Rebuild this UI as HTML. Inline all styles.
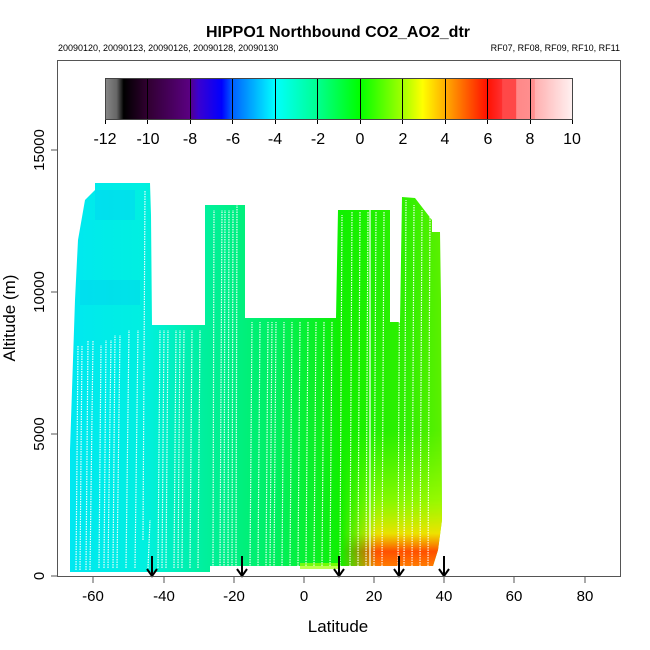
<!DOCTYPE html>
<html><head><meta charset="utf-8"><style>
body{margin:0;background:#fff}
svg{display:block;font-family:"Liberation Sans",sans-serif}
</style></head><body>
<svg width="650" height="650" xmlns="http://www.w3.org/2000/svg">
<defs>
<linearGradient id="cb" x1="105" x2="572" y1="0" y2="0" gradientUnits="userSpaceOnUse">
<stop offset="0" stop-color="#888"/>
<stop offset="0.025" stop-color="#666"/>
<stop offset="0.04" stop-color="#000"/>
<stop offset="0.09" stop-color="#300030"/>
<stop offset="0.18" stop-color="#5a0080"/>
<stop offset="0.2" stop-color="#3a00d0"/>
<stop offset="0.25" stop-color="#0000ff"/>
<stop offset="0.273" stop-color="#0060ff"/>
<stop offset="0.364" stop-color="#00ffff"/>
<stop offset="0.455" stop-color="#00ff90"/>
<stop offset="0.545" stop-color="#00ff00"/>
<stop offset="0.636" stop-color="#a0ff00"/>
<stop offset="0.68" stop-color="#ffff00"/>
<stop offset="0.727" stop-color="#ffb000"/>
<stop offset="0.818" stop-color="#ff1000"/>
<stop offset="0.85" stop-color="#ff3030"/>
<stop offset="0.851" stop-color="#ff4848"/>
<stop offset="0.88" stop-color="#ff4848"/>
<stop offset="0.881" stop-color="#ff8888"/>
<stop offset="0.92" stop-color="#ff9090"/>
<stop offset="0.921" stop-color="#ffb0b0"/>
<stop offset="0.95" stop-color="#ffc8c8"/>
<stop offset="1" stop-color="#fff0f0"/>
</linearGradient>
<linearGradient id="dg" x1="70" x2="445" y1="0" y2="0" gradientUnits="userSpaceOnUse">
<stop offset="0" stop-color="#00e8f0"/>
<stop offset="0.2" stop-color="#00f0e0"/>
<stop offset="0.35" stop-color="#00f0a0"/>
<stop offset="0.55" stop-color="#00f060"/>
<stop offset="0.72" stop-color="#10f000"/>
<stop offset="0.9" stop-color="#30f000"/>
<stop offset="1" stop-color="#60f000"/>
</linearGradient>
<linearGradient id="hot" x1="0" x2="0" y1="430" y2="568" gradientUnits="userSpaceOnUse">
<stop offset="0" stop-color="#a0ff00" stop-opacity="0"/>
<stop offset="0.5" stop-color="#c0ff00" stop-opacity="0.6"/>
<stop offset="0.75" stop-color="#ffe000" stop-opacity="0.9"/>
<stop offset="0.88" stop-color="#ff5000"/>
<stop offset="1" stop-color="#ff8000"/>
</linearGradient>
<linearGradient id="hotx" x1="340" x2="445" y1="0" y2="0" gradientUnits="userSpaceOnUse">
<stop offset="0" stop-color="#fff" stop-opacity="0"/>
<stop offset="0.35" stop-color="#fff" stop-opacity="1"/>
<stop offset="1" stop-color="#fff" stop-opacity="1"/>
</linearGradient>
<mask id="hm"><rect x="330" y="400" width="120" height="180" fill="url(#hotx)"/></mask>
</defs>
<text x="338" y="37" font-size="16" font-weight="bold" text-anchor="middle">HIPPO1 Northbound CO2_AO2_dtr</text>
<text x="58" y="51" font-size="9">20090120, 20090123, 20090126, 20090128, 20090130</text>
<text x="620" y="51" font-size="9" text-anchor="end">RF07, RF08, RF09, RF10, RF11</text>

<path d="M75,300 L78,240 L85,200 L95,190 L95,183 L150,183 L151,215 L152,325 L205,325 L205,205 L245,205 L245,318 L336,318 L338,210 L390,210 L390,322 L400,322 L402,197 L415,198 L432,220 L432,232 L440,232 L441,300 L442,520 L438,550 L433,566 L210,566 L210,572 L70,572 L70,450 Z" fill="url(#dg)"/>
<rect x="95" y="190" width="40" height="30" fill="#00d8f0" opacity="0.6"/>
<rect x="80" y="280" width="60" height="25" fill="#00d0f0" opacity="0.4"/>
<path d="M340,430 L441,430 L442,520 L438,550 L433,566 L340,566 Z" fill="url(#hot)" mask="url(#hm)"/>
<rect x="300" y="563" width="40" height="6" fill="#a0ff00" opacity="0.7"/>
<g stroke="#fff" stroke-width="1.2" stroke-dasharray="1.5 1" opacity="0.9">
<path d="M76,570 L78,345 M80,570 L82,345 M86,570 L88,340 M90,570 L93,340 M99,568 L101,345 M104,568 L106,340 M108,568 L111,340 M113,568 L115,335 M117,568 L120,335 M126,568 L129,330 M135,568 L138,330 M143,540 L145,190 M148,568 L150,520 M158,568 L160,330 M162,568 L164,330 M166,568 L168,330 M174,568 L176,330 M178,568 L180,330 M182,568 L184,330 M190,568 L192,330 M198,568 L200,330 M213,568 L214,210 M220,568 L222,210 M224,568 L225,210 M228,568 L229,210 M232,568 L233,210 M236,568 L237,205 M250,568 L252,322 M258,568 L260,322 M266,568 L268,322 M270,568 L272,322 M274,568 L276,322 M282,568 L284,322 M290,568 L292,322 M298,566 L300,322 M306,566 L308,322 M314,566 L316,322 M322,566 L324,322 M330,566 L332,322 M340,566 L342,215 M350,566 L352,212 M358,566 L360,212 M366,566 L368,212 M374,566 L376,212 M382,566 L384,212 M398,566 L400,200 M404,566 L406,200 M412,566 L414,205 M420,566 L422,210 M428,566 L430,215"/>
</g>
<line x1="370" y1="210" x2="370" y2="566" stroke="#fff" stroke-width="1.2"/>

<g stroke="#000" stroke-width="2" fill="none">
<path d="M152,556 V576 M147,569 L152,576 L157,569"/>
<path d="M242,556 V576 M237,569 L242,576 L247,569"/>
<path d="M339,556 V576 M334,569 L339,576 L344,569"/>
<path d="M399,556 V576 M394,569 L399,576 L404,569"/>
<path d="M444,556 V576 M439,569 L444,576 L449,569"/>
</g>

<rect x="57.5" y="60.5" width="563" height="516" fill="none" stroke="#555" stroke-width="1"/>
<g stroke="#555">
<path d="M93,577 V583 M164,577 V583 M234,577 V583 M304,577 V583 M374,577 V583 M444,577 V583 M514,577 V583 M585,577 V583"/>
<path d="M57,576 H51 M57,434 H51 M57,292 H51 M57,150 H51"/>
</g>
<g font-size="15" text-anchor="middle">
<text x="93" y="601">-60</text><text x="164" y="601">-40</text><text x="234" y="601">-20</text><text x="304" y="601">0</text><text x="374" y="601">20</text><text x="444" y="601">40</text><text x="514" y="601">60</text><text x="585" y="601">80</text>
</g>
<g font-size="15" text-anchor="middle">
<text transform="translate(44,576) rotate(-90)">0</text>
<text transform="translate(44,434) rotate(-90)">5000</text>
<text transform="translate(44,292) rotate(-90)">10000</text>
<text transform="translate(44,150) rotate(-90)">15000</text>
</g>
<text x="338" y="632" font-size="17" text-anchor="middle">Latitude</text>
<text transform="translate(15,318) rotate(-90)" font-size="17" text-anchor="middle">Altitude (m)</text>

<rect x="105" y="78" width="467" height="41" fill="url(#cb)"/>
<g stroke="#000" stroke-width="1">
<path d="M147.5,78 V119 M190.5,78 V119 M232.5,78 V119 M275.5,78 V119 M317.5,78 V119 M360.5,78 V119 M402.5,78 V119 M445.5,78 V119 M487.5,78 V119 M530.5,78 V119"/>
<path d="M105.5,78 V124 M572.5,78 V124 M105,119.5 H572"/>
<path d="M147.5,119 V124 M190.5,119 V124 M232.5,119 V124 M275.5,119 V124 M317.5,119 V124 M360.5,119 V124 M402.5,119 V124 M445.5,119 V124 M487.5,119 V124 M530.5,119 V124"/>
</g>
<rect x="105.5" y="78.5" width="467" height="41" fill="none" stroke="#444"/>
<g font-size="16" text-anchor="middle">
<text x="105" y="144">-12</text><text x="148" y="144">-10</text><text x="190" y="144">-8</text><text x="233" y="144">-6</text><text x="275" y="144">-4</text><text x="318" y="144">-2</text><text x="360" y="144">0</text><text x="403" y="144">2</text><text x="445" y="144">4</text><text x="488" y="144">6</text><text x="530" y="144">8</text><text x="572" y="144">10</text>
</g>
</svg>
</body></html>
